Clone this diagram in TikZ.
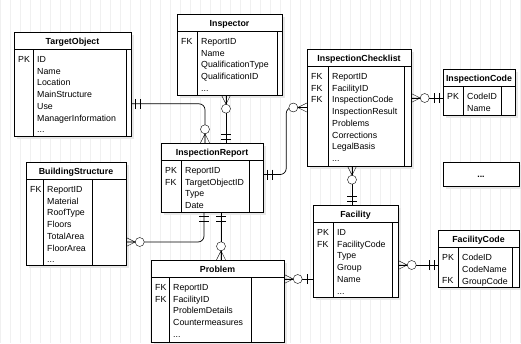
\documentclass[tikz,border=0pt]{standalone}
\usepackage{fontspec}
\setmainfont{Liberation Sans}
\usetikzlibrary{fit,positioning}

\tikzset{
	zmany/.pic={\draw (0,4.5) -- (9,0) -- (0,-4.5) (0,0) -- (9,0);
		\draw[fill=white] (13.5,0) circle (4.5);},
	mone/.pic={\draw (4,-5) -- (4,5) (9,-5) -- (9,5);},
	sone/.pic={\draw (6,-5) -- (6,5);}
}

\begin{document}
\begin{tikzpicture}[y=-1pt,x=1pt,
	table/.style={draw,fill=white,inner sep=0pt},
	shade/.style={fill=black!9},
	title/.style={font=\fontsize{8.8}{11.7}\selectfont\bfseries,anchor=base,inner sep=0pt},
	keys/.style={font=\fontsize{8.8}{11.7}\selectfont,align=left,anchor=north west,inner sep=0pt},
	conn/.style={line width=0.7pt}]
	\newcommand\Table[8]{%
		\fill[shade] (#2+3,#3+3) rectangle (#4+3,#5+3);
		\node[table, fit={(#2,#3) (#4,#5)}] (#1) {};
		\draw (#2,#3+17.5) -- (#4,#3+17.5)
			(#6,#3+17.5) -- (#6,#5)
			(#7,#3+17.5) -- (#7,#5);
		\node[title] (#1-t) at ({(#2+#4)/2},#3+12.2) {#8};
	}

	\useasboundingbox (0,0) rectangle (521,343);
	\draw[black!6] (0,0) grid[step=10] (521,343);

	\Table{tgt}{14}{32}{131}{136}{33}{126}{TargetObject}
	\node[keys] (tgt-k) at (18,56.3) {PK};
	\node[keys] (tgt-f) at (37,56.3) {ID\\Name\\Location\\MainStructure\\Use\\ManagerInformation\\...};

	\Table{insp}{177}{14}{282}{95}{197}{277}{Inspector}
	\node[keys] (insp-k) at (181,38.3) {FK};
	\node[keys] (insp-f) at (201,38.3) {ReportID\\Name\\QualificationType\\QualificationID\\...};

	\Table{chk}{307}{49}{411}{166}{328}{404}{InspectionChecklist}
	\node[keys] (chk-k) at (311,73.3) {FK\\FK\\FK};
	\node[keys] (chk-f) at (332,73.3) {ReportID\\FacilityID\\InspectionCode\\InspectionResult\\Problems\\Corrections\\LegalBasis\\...};

	\Table{code}{443}{69}{515}{115}{463}{501}{InspectionCode}
	\node[keys] (code-k) at (447,93.3) {PK};
	\node[keys] (code-f) at (467,93.3) {CodeID\\Name};

	\fill[shade] (446,165) rectangle (522,189);
	\node[table, fit={(443,162) (519,186)}] (more) {};
	\node[title] (more-t) at (481,177) {...};

	\Table{rep}{161}{143}{263}{212}{181}{249}{InspectionReport}
	\node[keys] (rep-k) at (165,167.3) {PK\\FK};
	\node[keys] (rep-f) at (185,167.3) {ReportID\\TargetObjectID\\Type\\Date};

	\Table{bld}{26}{162}{126}{265}{43}{92}{BuildingStructure}
	\node[keys] (bld-k) at (30,186.3) {FK};
	\node[keys] (bld-f) at (47,186.3) {ReportID\\Material\\RoofType\\Floors\\TotalArea\\FloorArea\\...};

	\Table{prob}{151}{260}{284}{342}{169}{251}{Problem}
	\node[keys] (prob-k) at (155,284.3) {FK\\FK};
	\node[keys] (prob-f) at (173,284.3) {ReportID\\FacilityID\\ProblemDetails\\Countermeasures\\...};

	\Table{fac}{313}{205}{398}{297}{333}{392}{Facility}
	\node[keys] (fac-k) at (317,229.3) {PK\\FK};
	\node[keys] (fac-f) at (337,229.3) {ID\\FacilityCode\\Type\\Group\\Name\\...};

	\Table{fcode}{438}{230}{519}{287}{458}{512}{FacilityCode}
	\node[keys] (fcode-k) at (442,254.3) {PK\\\mbox{}\\FK};
	\node[keys] (fcode-f) at (462,254.3) {CodeID\\CodeName\\GroupCode};

	% relations
	\draw[conn,rounded corners=6] ([yshift=-72pt]tgt.north east) coordinate (a1) -| ([xshift=-7pt]rep.north) coordinate (b1);
	\pic[rotate=0] at (a1) {mone};
	\pic[rotate=90] at (b1) {zmany};

	\draw[conn] ([xshift=14pt]rep.north) coordinate (b2) -- (b2 |- insp.south) coordinate (a2);
	\pic[rotate=-90] at (a2) {zmany};
	\pic[rotate=90] at (b2) {mone};

	\draw[conn,rounded corners=6] ([yshift=3pt]rep.east) coordinate (a3) -- +(23,0) |- (chk.west) coordinate (b3);
	\pic[rotate=0] at (a3) {mone};
	\pic[rotate=180] at (b3) {zmany};

	\draw[conn] ([yshift=-6pt]code.west) coordinate (b4) -- (b4 -| chk.east) coordinate (a4);
	\pic[rotate=0] at (a4) {zmany};
	\pic[rotate=180] at (b4) {mone};

	\draw[conn] ([xshift=-3.5pt]fac.north) coordinate (b5) -- (b5 |- chk.south) coordinate (a5);
	\pic[rotate=-90] at (a5) {zmany};
	\pic[rotate=90] at (b5) {mone};

	\draw[conn] ([yshift=-6.5pt]fcode.west) coordinate (b6) -- (b6 -| fac.east) coordinate (a6);
	\pic[rotate=0] at (a6) {zmany};
	\pic[rotate=180] at (b6) {mone};

	\draw[conn] ([yshift=22pt]prob.east) coordinate (a7) -- (a7 -| fac.west) coordinate (b7);
	\pic[rotate=0] at (a7) {zmany};
	\pic[rotate=180] at (b7) {sone};

	\draw[conn,rounded corners=6] ([xshift=-8pt]rep.south) coordinate (a8) |- ([yshift=-28.5pt]bld.east) coordinate (b8);
	\pic[rotate=-90] at (a8) {mone};
	\pic[rotate=0] at (b8) {zmany};

	\draw[conn] ([xshift=9pt]rep.south) coordinate (a9) -- (a9 |- prob.north) coordinate (b9);
	\pic[rotate=-90] at (a9) {mone};
	\pic[rotate=90] at (b9) {zmany};
\end{tikzpicture}
\end{document}
